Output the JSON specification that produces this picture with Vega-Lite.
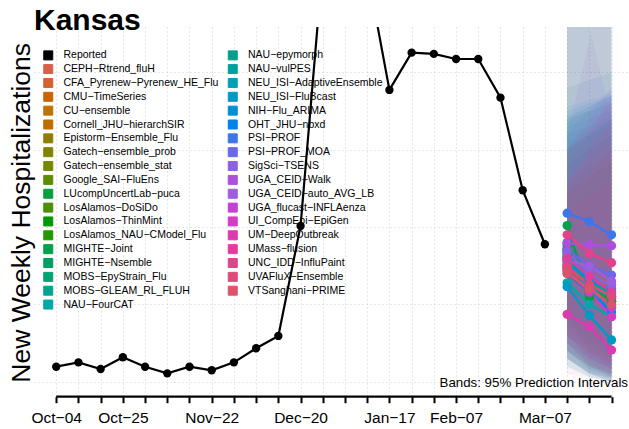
{
  "$schema": "https://vega.github.io/schema/vega-lite/v6.json",
  "autosize": {"type": "none"},
  "width": 595,
  "height": 369.7,
  "padding": {"left": 34, "top": 27, "right": 0, "bottom": 32.3},
  "config": {"font": "Liberation Sans", "view": {"stroke": null}},
  "title": {"text": "Kansas", "anchor": "start", "frame": "group", "fontSize": 30, "fontWeight": "bold", "font": "Liberation Sans", "color": "black", "baseline": "alphabetic", "offset": 0, "dy": 33.3},
  "resolve": {"axis": {"x": "independent"}},
  "datasets": {
    "reported": [
      {"date": "2025-10-04", "value": 9.7, "model": "Reported"},
      {"date": "2025-10-11", "value": 12.5, "model": "Reported"},
      {"date": "2025-10-18", "value": 8.2, "model": "Reported"},
      {"date": "2025-10-25", "value": 15.8, "model": "Reported"},
      {"date": "2025-11-01", "value": 9.7, "model": "Reported"},
      {"date": "2025-11-08", "value": 5.4, "model": "Reported"},
      {"date": "2025-11-15", "value": 9.7, "model": "Reported"},
      {"date": "2025-11-22", "value": 7.4, "model": "Reported"},
      {"date": "2025-11-29", "value": 12.5, "model": "Reported"},
      {"date": "2025-12-06", "value": 21.6, "model": "Reported"},
      {"date": "2025-12-13", "value": 29.6, "model": "Reported"},
      {"date": "2025-12-20", "value": 100.7, "model": "Reported"},
      {"date": "2025-12-27", "value": 270, "model": "Reported"},
      {"date": "2026-01-03", "value": 320, "model": "Reported"},
      {"date": "2026-01-10", "value": 266, "model": "Reported"},
      {"date": "2026-01-17", "value": 188.7, "model": "Reported"},
      {"date": "2026-01-24", "value": 212.8, "model": "Reported"},
      {"date": "2026-01-31", "value": 212, "model": "Reported"},
      {"date": "2026-02-07", "value": 208.7, "model": "Reported"},
      {"date": "2026-02-14", "value": 208.7, "model": "Reported"},
      {"date": "2026-02-21", "value": 183.7, "model": "Reported"},
      {"date": "2026-02-28", "value": 123.8, "model": "Reported"},
      {"date": "2026-03-07", "value": 88.9, "model": "Reported"}
    ],
    "forecast": [
      {"model": "CEPH−Rtrend_fluH", "date": "2026-03-14", "median": 78, "lower": 40, "upper": 125},
      {"model": "CEPH−Rtrend_fluH", "date": "2026-03-21", "median": 66, "lower": 30, "upper": 135},
      {"model": "CEPH−Rtrend_fluH", "date": "2026-03-28", "median": 60, "lower": 25, "upper": 145},
      {"model": "CFA_Pyrenew−Pyrenew_HE_Flu", "date": "2026-03-14", "median": 75, "lower": 35, "upper": 120},
      {"model": "CFA_Pyrenew−Pyrenew_HE_Flu", "date": "2026-03-21", "median": 62, "lower": 25, "upper": 130},
      {"model": "CFA_Pyrenew−Pyrenew_HE_Flu", "date": "2026-03-28", "median": 55, "lower": 18, "upper": 140},
      {"model": "CMU−TimeSeries", "date": "2026-03-14", "median": 73, "lower": 30, "upper": 130},
      {"model": "CMU−TimeSeries", "date": "2026-03-21", "median": 60, "lower": 20, "upper": 140},
      {"model": "CMU−TimeSeries", "date": "2026-03-28", "median": 52, "lower": 12, "upper": 150},
      {"model": "CU−ensemble", "date": "2026-03-14", "median": 80, "lower": 45, "upper": 115},
      {"model": "CU−ensemble", "date": "2026-03-21", "median": 70, "lower": 35, "upper": 125},
      {"model": "CU−ensemble", "date": "2026-03-28", "median": 63, "lower": 28, "upper": 135},
      {"model": "Cornell_JHU−hierarchSIR", "date": "2026-03-14", "median": 72, "lower": 25, "upper": 140},
      {"model": "Cornell_JHU−hierarchSIR", "date": "2026-03-21", "median": 58, "lower": 15, "upper": 150},
      {"model": "Cornell_JHU−hierarchSIR", "date": "2026-03-28", "median": 50, "lower": 8, "upper": 160},
      {"model": "Epistorm−Ensemble_Flu", "date": "2026-03-14", "median": 76, "lower": 30, "upper": 250},
      {"model": "Epistorm−Ensemble_Flu", "date": "2026-03-21", "median": 64, "lower": 20, "upper": 265},
      {"model": "Epistorm−Ensemble_Flu", "date": "2026-03-28", "median": 57, "lower": 12, "upper": 280},
      {"model": "Gatech−ensemble_prob", "date": "2026-03-14", "median": 74, "lower": 35, "upper": 128},
      {"model": "Gatech−ensemble_prob", "date": "2026-03-21", "median": 62, "lower": 22, "upper": 138},
      {"model": "Gatech−ensemble_prob", "date": "2026-03-28", "median": 55, "lower": 15, "upper": 148},
      {"model": "Gatech−ensemble_stat", "date": "2026-03-14", "median": 77, "lower": 40, "upper": 122},
      {"model": "Gatech−ensemble_stat", "date": "2026-03-21", "median": 63, "lower": 28, "upper": 132},
      {"model": "Gatech−ensemble_stat", "date": "2026-03-28", "median": 56, "lower": 20, "upper": 142},
      {"model": "Google_SAI−FluEns", "date": "2026-03-14", "median": 79, "lower": 30, "upper": 150},
      {"model": "Google_SAI−FluEns", "date": "2026-03-21", "median": 60, "lower": 18, "upper": 160},
      {"model": "Google_SAI−FluEns", "date": "2026-03-28", "median": 52, "lower": 10, "upper": 170},
      {"model": "LUcompUncertLab−puca", "date": "2026-03-14", "median": 82, "lower": 20, "upper": 155},
      {"model": "LUcompUncertLab−puca", "date": "2026-03-21", "median": 56, "lower": 10, "upper": 162},
      {"model": "LUcompUncertLab−puca", "date": "2026-03-28", "median": 50, "lower": 5, "upper": 170},
      {"model": "LosAlamos−DoSiDo", "date": "2026-03-14", "median": 84, "lower": 35, "upper": 150},
      {"model": "LosAlamos−DoSiDo", "date": "2026-03-21", "median": 58, "lower": 20, "upper": 158},
      {"model": "LosAlamos−DoSiDo", "date": "2026-03-28", "median": 52, "lower": 12, "upper": 165},
      {"model": "LosAlamos−ThinMint", "date": "2026-03-14", "median": 88, "lower": 40, "upper": 145},
      {"model": "LosAlamos−ThinMint", "date": "2026-03-21", "median": 57, "lower": 22, "upper": 152},
      {"model": "LosAlamos−ThinMint", "date": "2026-03-28", "median": 51, "lower": 15, "upper": 160},
      {"model": "LosAlamos_NAU−CModel_Flu", "date": "2026-03-14", "median": 86, "lower": 30, "upper": 152},
      {"model": "LosAlamos_NAU−CModel_Flu", "date": "2026-03-21", "median": 55, "lower": 15, "upper": 160},
      {"model": "LosAlamos_NAU−CModel_Flu", "date": "2026-03-28", "median": 49, "lower": 8, "upper": 168},
      {"model": "MIGHTE−Joint", "date": "2026-03-14", "median": 101, "lower": 25, "upper": 160},
      {"model": "MIGHTE−Joint", "date": "2026-03-21", "median": 56, "lower": 10, "upper": 165},
      {"model": "MIGHTE−Joint", "date": "2026-03-28", "median": 53, "lower": 5, "upper": 172},
      {"model": "MIGHTE−Nsemble", "date": "2026-03-14", "median": 90, "lower": 20, "upper": 170},
      {"model": "MIGHTE−Nsemble", "date": "2026-03-21", "median": 60, "lower": 8, "upper": 175},
      {"model": "MIGHTE−Nsemble", "date": "2026-03-28", "median": 54, "lower": 3, "upper": 180},
      {"model": "MOBS−EpyStrain_Flu", "date": "2026-03-14", "median": 81, "lower": 15, "upper": 168},
      {"model": "MOBS−EpyStrain_Flu", "date": "2026-03-21", "median": 62, "lower": 5, "upper": 175},
      {"model": "MOBS−EpyStrain_Flu", "date": "2026-03-28", "median": 55, "lower": 2, "upper": 182},
      {"model": "MOBS−GLEAM_RL_FLUH", "date": "2026-03-14", "median": 85, "lower": 10, "upper": 260},
      {"model": "MOBS−GLEAM_RL_FLUH", "date": "2026-03-21", "median": 64, "lower": 3, "upper": 280},
      {"model": "MOBS−GLEAM_RL_FLUH", "date": "2026-03-28", "median": 57, "lower": 0, "upper": 300},
      {"model": "NAU−FourCAT", "date": "2026-03-14", "median": 64, "lower": 10, "upper": 172},
      {"model": "NAU−FourCAT", "date": "2026-03-21", "median": 50, "lower": 3, "upper": 178},
      {"model": "NAU−FourCAT", "date": "2026-03-28", "median": 42, "lower": 0, "upper": 185},
      {"model": "NAU−epymorph", "date": "2026-03-14", "median": 86, "lower": 20, "upper": 190},
      {"model": "NAU−epymorph", "date": "2026-03-21", "median": 66, "lower": 10, "upper": 195},
      {"model": "NAU−epymorph", "date": "2026-03-28", "median": 58, "lower": 4, "upper": 200},
      {"model": "NAU−vulPES", "date": "2026-03-14", "median": 83, "lower": 15, "upper": 280},
      {"model": "NAU−vulPES", "date": "2026-03-21", "median": 63, "lower": 6, "upper": 300},
      {"model": "NAU−vulPES", "date": "2026-03-28", "median": 55, "lower": 2, "upper": 320},
      {"model": "NEU_ISI−AdaptiveEnsemble", "date": "2026-03-14", "median": 80, "lower": 20, "upper": 175},
      {"model": "NEU_ISI−AdaptiveEnsemble", "date": "2026-03-21", "median": 58, "lower": 8, "upper": 180},
      {"model": "NEU_ISI−AdaptiveEnsemble", "date": "2026-03-28", "median": 48, "lower": 3, "upper": 185},
      {"model": "NEU_ISI−FluBcast", "date": "2026-03-14", "median": 61.4, "lower": 15, "upper": 165},
      {"model": "NEU_ISI−FluBcast", "date": "2026-03-21", "median": 43, "lower": 5, "upper": 170},
      {"model": "NEU_ISI−FluBcast", "date": "2026-03-28", "median": 27, "lower": 0, "upper": 175},
      {"model": "NIH−Flu_ARIMA", "date": "2026-03-14", "median": 79, "lower": 25, "upper": 240},
      {"model": "NIH−Flu_ARIMA", "date": "2026-03-21", "median": 65, "lower": 15, "upper": 260},
      {"model": "NIH−Flu_ARIMA", "date": "2026-03-28", "median": 60, "lower": 8, "upper": 280},
      {"model": "OHT_JHU−nbxd", "date": "2026-03-14", "median": 70, "lower": 15, "upper": 178},
      {"model": "OHT_JHU−nbxd", "date": "2026-03-21", "median": 58, "lower": 5, "upper": 182},
      {"model": "OHT_JHU−nbxd", "date": "2026-03-28", "median": 45, "lower": 0, "upper": 186},
      {"model": "PSI−PROF", "date": "2026-03-14", "median": 109, "lower": 40, "upper": 170},
      {"model": "PSI−PROF", "date": "2026-03-21", "median": 103.5, "lower": 25, "upper": 178},
      {"model": "PSI−PROF", "date": "2026-03-28", "median": 95, "lower": 15, "upper": 185},
      {"model": "PSI−PROF_MOA", "date": "2026-03-14", "median": 85, "lower": 30, "upper": 160},
      {"model": "PSI−PROF_MOA", "date": "2026-03-21", "median": 75, "lower": 15, "upper": 175},
      {"model": "PSI−PROF_MOA", "date": "2026-03-28", "median": 69, "lower": 8, "upper": 190},
      {"model": "SigSci−TSENS", "date": "2026-03-14", "median": 84, "lower": 25, "upper": 300},
      {"model": "SigSci−TSENS", "date": "2026-03-21", "median": 70, "lower": 12, "upper": 230},
      {"model": "SigSci−TSENS", "date": "2026-03-28", "median": 62, "lower": 5, "upper": 170},
      {"model": "UGA_CEID−Walk", "date": "2026-03-14", "median": 89.5, "lower": 30, "upper": 150},
      {"model": "UGA_CEID−Walk", "date": "2026-03-21", "median": 88.5, "lower": 18, "upper": 170},
      {"model": "UGA_CEID−Walk", "date": "2026-03-28", "median": 88, "lower": 10, "upper": 190},
      {"model": "UGA_CEID−auto_AVG_LB", "date": "2026-03-14", "median": 78, "lower": 25, "upper": 160},
      {"model": "UGA_CEID−auto_AVG_LB", "date": "2026-03-21", "median": 75, "lower": 12, "upper": 220},
      {"model": "UGA_CEID−auto_AVG_LB", "date": "2026-03-28", "median": 65, "lower": 5, "upper": 300},
      {"model": "UGA_flucast−INFLAenza", "date": "2026-03-14", "median": 75, "lower": 20, "upper": 140},
      {"model": "UGA_flucast−INFLAenza", "date": "2026-03-21", "median": 62, "lower": 10, "upper": 160},
      {"model": "UGA_flucast−INFLAenza", "date": "2026-03-28", "median": 48, "lower": 4, "upper": 185},
      {"model": "UI_CompEpi−EpiGen", "date": "2026-03-14", "median": 72, "lower": 15, "upper": 130},
      {"model": "UI_CompEpi−EpiGen", "date": "2026-03-21", "median": 58, "lower": 6, "upper": 150},
      {"model": "UI_CompEpi−EpiGen", "date": "2026-03-28", "median": 42, "lower": 2, "upper": 170},
      {"model": "UM−DeepOutbreak", "date": "2026-03-14", "median": 43.6, "lower": 5, "upper": 110},
      {"model": "UM−DeepOutbreak", "date": "2026-03-21", "median": 35.6, "lower": 2, "upper": 120},
      {"model": "UM−DeepOutbreak", "date": "2026-03-28", "median": 20.5, "lower": 0, "upper": 130},
      {"model": "UMass−flusion", "date": "2026-03-14", "median": 80, "lower": 25, "upper": 250},
      {"model": "UMass−flusion", "date": "2026-03-21", "median": 68, "lower": 12, "upper": 260},
      {"model": "UMass−flusion", "date": "2026-03-28", "median": 58, "lower": 5, "upper": 270},
      {"model": "UNC_IDD−InfluPaint", "date": "2026-03-14", "median": 95, "lower": 30, "upper": 150},
      {"model": "UNC_IDD−InfluPaint", "date": "2026-03-21", "median": 83, "lower": 18, "upper": 165},
      {"model": "UNC_IDD−InfluPaint", "date": "2026-03-28", "median": 77, "lower": 10, "upper": 180},
      {"model": "UVAFluX−Ensemble", "date": "2026-03-14", "median": 74, "lower": 20, "upper": 130},
      {"model": "UVAFluX−Ensemble", "date": "2026-03-21", "median": 63, "lower": 10, "upper": 145},
      {"model": "UVAFluX−Ensemble", "date": "2026-03-28", "median": 55, "lower": 3, "upper": 160},
      {"model": "VTSanghani−PRIME", "date": "2026-03-14", "median": 70, "lower": 15, "upper": 120},
      {"model": "VTSanghani−PRIME", "date": "2026-03-21", "median": 60, "lower": 6, "upper": 135},
      {"model": "VTSanghani−PRIME", "date": "2026-03-28", "median": 50, "lower": 0, "upper": 150}
    ]
  },
  "layer": [
    {
      "data": {"name": "forecast"},
      "mark": {"type": "area", "opacity": 0.08, "clip": true},
      "encoding": {
        "x": {
          "field": "date", "type": "temporal",
          "scale": {"type": "utc", "domain": [{"year": 2025, "month": 9, "date": 27, "utc": true}, {"year": 2026, "month": 4, "date": 2, "hours": 12, "utc": true}]},
          "axis": {
            "orient": "bottom", "title": null, "domain": false, "labels": false, "grid": true, "gridColor": "#cfcfcf", "gridDash": [1, 3], "gridWidth": 1,
            "ticks": true, "tickSize": 6, "tickWidth": 2, "tickColor": "black",
            "values": [
              {"year": 2025, "month": 10, "date": 4, "utc": true}, {"year": 2025, "month": 10, "date": 11, "utc": true},
              {"year": 2025, "month": 10, "date": 18, "utc": true}, {"year": 2025, "month": 10, "date": 25, "utc": true},
              {"year": 2025, "month": 11, "date": 1, "utc": true}, {"year": 2025, "month": 11, "date": 8, "utc": true},
              {"year": 2025, "month": 11, "date": 15, "utc": true}, {"year": 2025, "month": 11, "date": 22, "utc": true},
              {"year": 2025, "month": 11, "date": 29, "utc": true}, {"year": 2025, "month": 12, "date": 6, "utc": true},
              {"year": 2025, "month": 12, "date": 13, "utc": true}, {"year": 2025, "month": 12, "date": 20, "utc": true},
              {"year": 2025, "month": 12, "date": 27, "utc": true}, {"year": 2026, "month": 1, "date": 3, "utc": true},
              {"year": 2026, "month": 1, "date": 10, "utc": true}, {"year": 2026, "month": 1, "date": 17, "utc": true},
              {"year": 2026, "month": 1, "date": 24, "utc": true}, {"year": 2026, "month": 1, "date": 31, "utc": true},
              {"year": 2026, "month": 2, "date": 7, "utc": true}, {"year": 2026, "month": 2, "date": 14, "utc": true},
              {"year": 2026, "month": 2, "date": 21, "utc": true}, {"year": 2026, "month": 2, "date": 28, "utc": true},
              {"year": 2026, "month": 3, "date": 7, "utc": true}, {"year": 2026, "month": 3, "date": 14, "utc": true},
              {"year": 2026, "month": 3, "date": 21, "utc": true}, {"year": 2026, "month": 3, "date": 28, "utc": true}
            ]
          }
        },
        "y": {
          "field": "lower", "type": "quantitative",
          "scale": {"domain": [-9.7, 229.4], "nice": false, "zero": false},
          "axis": {
            "title": "New Weekly Hospitalizations", "titleFont": "Liberation Sans", "titleFontSize": 26.5, "titleFontWeight": "normal", "titleColor": "black",
            "titleX": -4.7, "titleY": 185.3, "titleAngle": 270, "titleAlign": "center", "titleBaseline": "alphabetic",
            "labels": false, "ticks": false, "domain": false, "grid": true, "values": [0, 50, 100, 150, 200],
            "gridColor": "#cfcfcf", "gridDash": [1, 3], "gridWidth": 1
          }
        },
        "y2": {"field": "upper"},
        "color": {
          "field": "model", "type": "nominal",
          "scale": {
            "domain": ["Reported", "CEPH−Rtrend_fluH", "CFA_Pyrenew−Pyrenew_HE_Flu", "CMU−TimeSeries", "CU−ensemble", "Cornell_JHU−hierarchSIR", "Epistorm−Ensemble_Flu", "Gatech−ensemble_prob", "Gatech−ensemble_stat", "Google_SAI−FluEns", "LUcompUncertLab−puca", "LosAlamos−DoSiDo", "LosAlamos−ThinMint", "LosAlamos_NAU−CModel_Flu", "MIGHTE−Joint", "MIGHTE−Nsemble", "MOBS−EpyStrain_Flu", "MOBS−GLEAM_RL_FLUH", "NAU−FourCAT", "NAU−epymorph", "NAU−vulPES", "NEU_ISI−AdaptiveEnsemble", "NEU_ISI−FluBcast", "NIH−Flu_ARIMA", "OHT_JHU−nbxd", "PSI−PROF", "PSI−PROF_MOA", "SigSci−TSENS", "UGA_CEID−Walk", "UGA_CEID−auto_AVG_LB", "UGA_flucast−INFLAenza", "UI_CompEpi−EpiGen", "UM−DeepOutbreak", "UMass−flusion", "UNC_IDD−InfluPaint", "UVAFluX−Ensemble", "VTSanghani−PRIME"],
            "range": ["#000000", "#d95f4c", "#d2622f", "#c86400", "#bb7400", "#c06c00", "#8c7f00", "#7f8400", "#748900", "#5f8d00", "#00a13a", "#4a9000", "#009a00", "#229800", "#00a04e", "#00a062", "#00a472", "#00a48e", "#00a6a8", "#009f8a", "#00a0a0", "#00a0b5", "#0098c5", "#008fd5", "#0083e8", "#3f75e8", "#6a68e6", "#8c60e3", "#ad4fdc", "#9d5ee0", "#c142d4", "#d53cc3", "#db3ab0", "#e03e9e", "#e3428c", "#e04a7a", "#dc5468"]
          },
          "legend": {
            "orient": "none", "legendX": 9, "legendY": 23, "columns": 2, "title": null, "padding": 0, "symbolLimit": 0,
            "symbolType": "square", "symbolSize": 81, "symbolStrokeColor": "black", "symbolStrokeWidth": 1, "symbolOpacity": 1,
            "labelFont": "Liberation Sans", "labelFontSize": 10.5, "labelColor": "black", "labelOffset": 10, "labelLimit": 400,
            "rowPadding": -0.15, "columnPadding": 6.5,
            "encode": {"symbols": {"update": {"fill": {"scale": "color", "field": "value"}, "fillOpacity": {"value": 1}, "stroke": {"value": "black"}, "strokeWidth": {"value": 1}, "opacity": {"value": 1}}}}
          }
        }
      }
    },
    {
      "data": {"name": "reported"},
      "mark": {"type": "line", "color": "black", "strokeWidth": 2.2, "clip": true},
      "encoding": {
        "x": {"field": "date", "type": "temporal", "axis": null},
        "y": {"field": "value", "type": "quantitative"}
      }
    },
    {
      "data": {"name": "reported"},
      "mark": {"type": "circle", "color": "black", "size": 70, "opacity": 1, "clip": true},
      "encoding": {
        "x": {"field": "date", "type": "temporal", "axis": null},
        "y": {"field": "value", "type": "quantitative"}
      }
    },
    {
      "data": {"name": "forecast"},
      "mark": {"type": "line", "strokeWidth": 2.5, "clip": true},
      "encoding": {
        "x": {"field": "date", "type": "temporal", "axis": null},
        "y": {"field": "median", "type": "quantitative"},
        "color": {"field": "model", "type": "nominal"}
      }
    },
    {
      "data": {"name": "forecast"},
      "mark": {"type": "circle", "size": 85, "opacity": 1, "clip": true},
      "encoding": {
        "x": {"field": "date", "type": "temporal", "axis": null},
        "y": {"field": "median", "type": "quantitative"},
        "color": {"field": "model", "type": "nominal"}
      }
    },
    {
      "data": {"values": [{"start": "2025-10-04", "end": "2026-03-28"}]},
      "mark": {"type": "rule", "color": "black", "strokeWidth": 2.2},
      "encoding": {
        "x": {
          "field": "start", "type": "temporal",
          "axis": {
            "orient": "bottom", "title": null, "domain": false, "grid": false, "ticks": false,
            "values": [
              {"year": 2025, "month": 10, "date": 4, "utc": true}, {"year": 2025, "month": 10, "date": 25, "utc": true},
              {"year": 2025, "month": 11, "date": 22, "utc": true}, {"year": 2025, "month": 12, "date": 20, "utc": true},
              {"year": 2026, "month": 1, "date": 17, "utc": true}, {"year": 2026, "month": 2, "date": 7, "utc": true},
              {"year": 2026, "month": 3, "date": 7, "utc": true}
            ],
            "labelExpr": "utcFormat(datum.value, '%b−%d')",
            "labelFont": "Liberation Sans", "labelFontSize": 15.5, "labelColor": "black", "labelBaseline": "alphabetic",
            "labelPadding": 26, "labelOverlap": false, "labelBound": false, "labelFlush": false
          }
        },
        "x2": {"field": "end"},
        "y": {"datum": -9.7, "type": "quantitative"}
      }
    },
    {
      "data": {"values": [{"note": "Bands: 95% Prediction Intervals"}]},
      "mark": {"type": "text", "align": "right", "baseline": "alphabetic", "fontSize": 13.3, "font": "Liberation Sans", "color": "black", "dx": -1},
      "encoding": {
        "x": {"datum": {"year": 2026, "month": 4, "date": 2, "hours": 12, "utc": true}, "type": "temporal", "axis": null},
        "y": {"datum": -3.3, "type": "quantitative"},
        "text": {"field": "note"}
      }
    }
  ]
}
